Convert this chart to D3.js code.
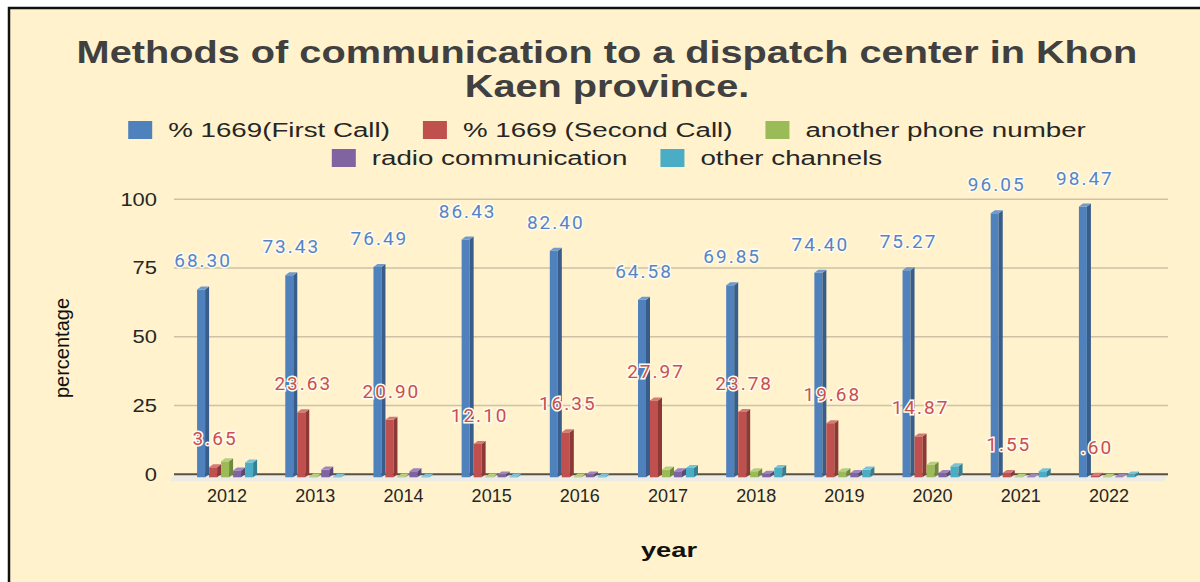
<!DOCTYPE html>
<html>
<head>
<meta charset="utf-8">
<script src="https://cdn.jsdelivr.net/npm/d3@7"></script>
<style>
  html, body { margin: 0; padding: 0; background: #fff; }
  svg { display: block; }
</style>
</head>
<body>
<svg id="chart"></svg>
<script>
// --- data ---
const years = ['2012', '2013', '2014', '2015', '2016', '2017', '2018', '2019', '2020', '2021', '2022'];
const seriesNames = ['% 1669(First Call)', '% 1669 (Second Call)', 'another phone number', 'radio communication', 'other channels'];
const firstCall = [68.30, 73.43, 76.49, 86.43, 82.40, 64.58, 69.85, 74.40, 75.27, 96.05, 98.47];
const secondCall = [3.65, 23.63, 20.90, 12.10, 16.35, 27.97, 23.78, 19.68, 14.87, 1.55, 0.60];
const otherPhone = [5.8, 0.3, 0.3, 0.3, 0.3, 2.8, 2.2, 2.2, 4.6, 0.2, 0.2];
const radio = [2.5, 2.8, 2.2, 1.0, 1.0, 2.2, 1.3, 1.6, 1.6, 0.1, 0.1];
const otherChannels = [5.4, 0.2, 0.2, 0.3, 0.3, 3.4, 3.4, 2.8, 4.0, 2.2, 1.0];
const yTicks = [0, 25, 50, 75, 100];
const labelledSeries = [0, 1]; // only the first two series carry data labels

const seriesValues = [firstCall, secondCall, otherPhone, radio, otherChannels];
const colors = [
  { front: '#4F81BD', side: '#385D8A', top: '#7099CC' },
  { front: '#C0504D', side: '#8C3836', top: '#D27A77' },
  { front: '#9BBB59', side: '#71893F', top: '#B5CE80' },
  { front: '#8064A2', side: '#5C4876', top: '#9D86BA' },
  { front: '#4BACC6', side: '#357F93', top: '#78C3D7' }
];
const labelColors = ['#5585C5', '#C9504D'];

const width = 1200, height = 582;
const font = '"Liberation Sans", Arial, sans-serif';
const svg = d3.select('#chart').attr('width', width).attr('height', height);

// background + frame
svg.append('rect').attr('x', 0).attr('y', 0).attr('width', width).attr('height', height).attr('fill', '#fff');
svg.append('rect').attr('x', 9).attr('y', 8).attr('width', width + 10).attr('height', height + 10)
  .attr('fill', '#FFF2CC').attr('stroke', '#111').attr('stroke-width', 2.5);

// title (the source picture is stretched sideways, so the text is too)
const title = svg.append('text')
  .attr('text-anchor', 'middle')
  .attr('font-family', font)
  .attr('font-weight', 'bold')
  .attr('font-size', 31)
  .attr('fill', '#404040');
const line1 = title.append('tspan').attr('x', 0).attr('y', 63).text('Methods of communication to a dispatch center in Khon');
title.append('tspan').attr('x', 0).attr('y', 97).text('Kaen province.');
const titleScale = 1061 / line1.node().getComputedTextLength();
title.attr('transform', `translate(607,0) scale(${titleScale},1)`);

// scales
const x0 = d3.scaleBand().domain(years).range([183, 1153]);
const x1 = d3.scaleBand().domain(d3.range(seriesNames.length)).range([0, 60]);
const y = d3.scaleLinear().domain([0, 100]).range([474.3, 199.3]);
const groupOffset = (x0.bandwidth() - 60) / 2;
const depthX = 4, depthY = 3, frontW = 8;

const gridLeft = x0.range()[0] - 9, gridRight = x0.range()[1] + 15;

// gridlines
svg.append('g').selectAll('line')
  .data(yTicks.filter(d => d > 0))
  .join('line')
  .attr('x1', gridLeft).attr('x2', gridRight)
  .attr('y1', d => y(d)).attr('y2', d => y(d))
  .attr('stroke', '#CDC2A5').attr('stroke-width', 1.5);

// floor
const y0 = y(0);
svg.append('path')
  .attr('d', `M${gridLeft},${y0} L${gridRight},${y0} L${gridRight - depthX},${y0 + 7} L${gridLeft - depthX},${y0 + 7} Z`)
  .attr('fill', '#ECEBE6');
svg.append('line')
  .attr('x1', gridLeft).attr('x2', gridRight)
  .attr('y1', y0).attr('y2', y0)
  .attr('stroke', '#5A4F43').attr('stroke-width', 2);

// y axis
const yAxis = svg.append('g')
  .attr('transform', `translate(${gridLeft - 17},0)`)
  .call(d3.axisLeft(y).tickValues(yTicks).tickSize(0).tickPadding(0));
yAxis.select('.domain').remove();
yAxis.selectAll('text')
  .attr('font-family', font)
  .attr('font-size', 18)
  .attr('fill', '#262626')
  .attr('transform', 'scale(1.22,1)');

// x axis
const xAxis = svg.append('g')
  .attr('transform', `translate(0,${y0 + 15})`)
  .call(d3.axisBottom(x0).tickSize(0).tickPadding(0));
xAxis.select('.domain').remove();
xAxis.selectAll('text')
  .attr('font-family', font)
  .attr('font-size', 18)
  .attr('fill', '#262626');

// axis titles
svg.append('text')
  .attr('transform', 'translate(69,348) rotate(-90)')
  .attr('text-anchor', 'middle')
  .attr('font-family', font)
  .attr('font-size', 20)
  .attr('fill', '#111')
  .text('percentage');
svg.append('text')
  .attr('transform', 'translate(669,557) scale(1.3,1)')
  .attr('text-anchor', 'middle')
  .attr('font-family', font)
  .attr('font-weight', 'bold')
  .attr('font-size', 21)
  .attr('fill', '#111')
  .text('year');

// data labels, Excel "#.00" style (0.60 -> .60)
const fmt = v => d3.format('.2f')(v).replace(/^0(?=\.)/, '');
const labelG = svg.append('g');
labelledSeries.forEach(s => {
  labelG.selectAll(null)
    .data(years.map((yr, i) => ({ yr, v: seriesValues[s][i] })))
    .join('text')
    .attr('x', d => x0(d.yr) + groupOffset + x1(s) + 6)
    .attr('y', d => y(d.v) - 19)
    .attr('text-anchor', 'middle')
    .attr('font-family', 'Roboto, "Open Sans", sans-serif')
    .attr('font-size', 19)
    .attr('letter-spacing', 2)
    .attr('fill', labelColors[s])
    .attr('stroke', '#FFFBF0')
    .attr('stroke-width', 3)
    .attr('paint-order', 'stroke')
    .text(d => fmt(d.v));
});

// 3d bars
const barsG = svg.append('g');
const barData = [];
years.forEach((yr, i) => {
  seriesValues.forEach((vals, s) => barData.push({ yr, s, v: vals[i] }));
});
const bar = barsG.selectAll('g.bar')
  .data(barData)
  .join('g')
  .attr('class', 'bar');

bar.append('path') // front
  .attr('d', d => {
    const x = x0(d.yr) + groupOffset + x1(d.s);
    const yt = y(d.v) + depthY, yb = y0 + depthY;
    return `M${x},${yt} L${x + frontW},${yt} L${x + frontW},${yb} L${x},${yb} Z`;
  })
  .attr('fill', d => colors[d.s].front);
bar.append('path') // side
  .attr('d', d => {
    const x = x0(d.yr) + groupOffset + x1(d.s) + frontW;
    const yt = y(d.v) + depthY, yb = y0 + depthY;
    return `M${x},${yt} L${x + depthX},${yt - depthY} L${x + depthX},${yb - depthY} L${x},${yb} Z`;
  })
  .attr('fill', d => colors[d.s].side);
bar.append('path') // top
  .attr('d', d => {
    const x = x0(d.yr) + groupOffset + x1(d.s);
    const yt = y(d.v) + depthY;
    return `M${x},${yt} L${x + frontW},${yt} L${x + frontW + depthX},${yt - depthY} L${x + depthX},${yt - depthY} Z`;
  })
  .attr('fill', d => colors[d.s].top);

// labels sit over the bars
labelG.raise();

// legend
const legendRows = [[0, 1, 2], [3, 4]];
const legendY = [130, 158];
const textScale = 1.32;
const legendG = svg.append('g');
legendRows.forEach((row, r) => {
  const items = row.map(s => {
    const g = legendG.append('g');
    g.append('rect').attr('width', 24).attr('height', 18).attr('y', -9)
      .attr('fill', colors[s].front);
    const t = g.append('text')
      .attr('transform', `translate(40,7) scale(${textScale},1)`)
      .attr('font-family', font)
      .attr('font-size', 21)
      .attr('fill', '#262626')
      .text(seriesNames[s]);
    const w = 40 + t.node().getComputedTextLength() * textScale;
    return { g, w };
  });
  const gap = 33;
  const total = d3.sum(items, d => d.w) + gap * (items.length - 1);
  let cx = 607 - total / 2;
  items.forEach(it => {
    it.g.attr('transform', `translate(${cx},${legendY[r]})`);
    cx += it.w + gap;
  });
});
</script>
</body>
</html>
